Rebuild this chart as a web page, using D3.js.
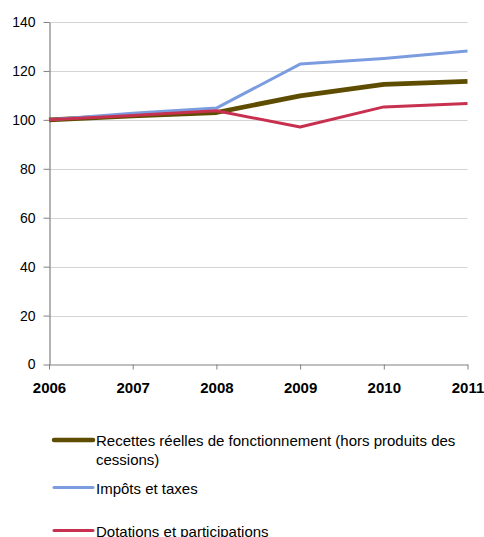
<!DOCTYPE html>
<html><head><meta charset="utf-8">
<script src="https://cdn.jsdelivr.net/npm/d3@7"></script>
<style>body{margin:0;background:#fff;} svg{display:block;font-family:"Liberation Sans",Arial,sans-serif;}</style>
</head><body>
<svg id="c" width="484" height="537"></svg>
<script>
const years = ["2006","2007","2008","2009","2010","2011"];
const recettes = [100, 101.6, 103.0, 109.8, 114.5, 115.7];
const impots = [100, 102.7, 104.8, 122.8, 125.1, 128.1];
const dotations = [100, 101.8, 103.7, 97.1, 105.3, 106.7];
const yTicks = [0, 20, 40, 60, 80, 100, 120, 140];
const seriesNames = ["Recettes réelles de fonctionnement (hors produits des cessions)", "Impôts et taxes", "Dotations et participations"];

const svg = d3.select("#c");
const x = d3.scalePoint().domain(years).range([49, 467.5]);
const y = d3.scaleLinear().domain([0, 140]).range([364.5, 22]);

// grid
svg.append("g").selectAll("line").data(yTicks.filter(d => d > 0)).join("line")
  .attr("x1", 49).attr("x2", 467.5)
  .attr("y1", d => Math.round(y(d)) + 0.5).attr("y2", d => Math.round(y(d)) + 0.5)
  .attr("stroke", "#d4d4d4").attr("stroke-width", 1);

// y axis
const ya = svg.append("g").attr("transform", "translate(49.5,0)")
  .call(d3.axisLeft(y).tickValues(yTicks).tickSize(6).tickSizeOuter(0).tickPadding(8));
ya.select(".domain").attr("stroke", "#808080").attr("stroke-width", 1.2);
ya.selectAll(".tick line").attr("stroke", "#808080");
ya.selectAll("text").attr("font-size", 14).attr("fill", "#000").style("font-family", "Liberation Sans, Arial, sans-serif");

// x axis
const xa = svg.append("g").attr("transform", "translate(0,364.5)")
  .call(d3.axisBottom(x).tickSize(5).tickSizeOuter(0).tickPadding(13));
xa.select(".domain").attr("stroke", "#808080").attr("stroke-width", 1.2);
xa.selectAll(".tick line").attr("stroke", "#808080");
xa.selectAll("text").attr("font-size", 15).attr("font-weight", "bold").attr("fill", "#000").style("font-family", "Liberation Sans, Arial, sans-serif");

const series = [
  {name: seriesNames[0], values: recettes, color: "#5e4d00", width: 4.8},
  {name: seriesNames[1], values: impots, color: "#7b9ddf", width: 3},
  {name: seriesNames[2], values: dotations, color: "#c8304f", width: 3}
];
const line = d3.line().x((d, i) => x(years[i])).y(d => y(d));
svg.append("g").selectAll("path").data(series).join("path")
  .attr("d", d => line(d.values)).attr("fill", "none")
  .attr("stroke", d => d.color).attr("stroke-width", d => d.width)
  .attr("stroke-linejoin", "round");

// legend
const lg = svg.append("g");
const rows = [
  {s: series[0], y: 440, lines: ["Recettes réelles de fonctionnement (hors produits des", "cessions)"]},
  {s: series[1], y: 487.5, lines: ["Impôts et taxes"]},
  {s: series[2], y: 530.5, lines: ["Dotations et participations"]}
];
rows.forEach((r, k) => {
  lg.append("line").attr("x1", 54).attr("x2", 93).attr("y1", r.y).attr("y2", r.y)
    .attr("stroke", r.s.color).attr("stroke-width", k === 0 ? 4.5 : 3).attr("stroke-linecap", "round");
  r.lines.forEach((t, i) => {
    lg.append("text").attr("x", 96).attr("y", r.y + 6 + i * 19).attr("font-size", 15).attr("fill", "#000").text(t);
  });
});
</script>
</body></html>
